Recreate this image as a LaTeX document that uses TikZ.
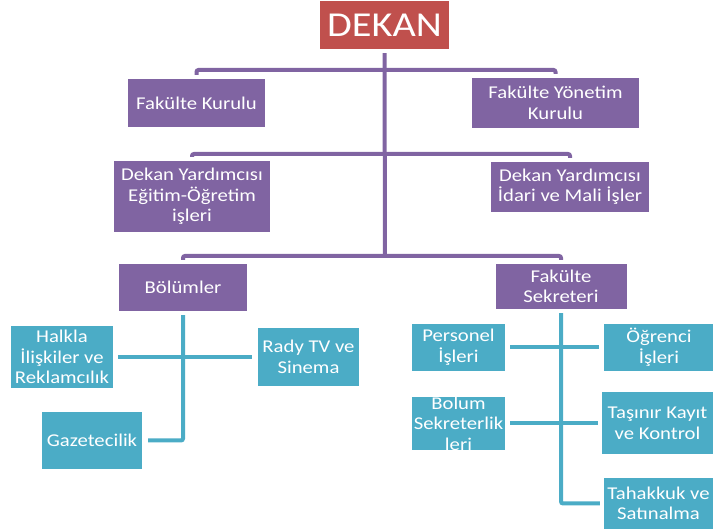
\documentclass[tikz,border=0pt]{standalone}
\usepackage{fontspec}
\setmainfont{Carlito}[FakeStretch=1.15]
\definecolor{deanred}{HTML}{C0504D}
\definecolor{boardpurple}{HTML}{8064A2}
\definecolor{unitteal}{HTML}{4BACC6}

\begin{document}
\begin{tikzpicture}[x=1pt,y=-1pt,
  sz/.style 2 args={minimum width=#1pt,minimum height=#2pt},
  box/.style={rectangle,inner sep=0pt,align=center,text=white,font=\fontsize{18}{20.5}\selectfont},
  pbox/.style={box,fill=boardpurple},
  tbox/.style={box,fill=unitteal},
  pline/.style={draw=boardpurple,line width=4pt,rounded corners=2pt},
  tline/.style={draw=unitteal,line width=4pt,rounded corners=2pt}]
  \useasboundingbox (0,0) rectangle (713,529);
  % dean
  \node[box,fill=deanred,sz={129}{48},font=\fontsize{35}{40}\selectfont] (dekan) at (384.5,25) {DEKAN};
  % boards and deputies
  \node[pbox,sz={137}{48}] (fkurul) at (196.5,103) {Fakülte Kurulu};
  \node[pbox,sz={167}{50}] (fyonetim) at (555.5,103) {Fakülte Yönetim\\Kurulu};
  \node[pbox,sz={156}{71}] (dyegitim) at (192,196.5) {Dekan Yardımcısı\\Eğitim-Öğretim\\işleri};
  \node[pbox,sz={158}{50}] (dyidari) at (570,187) {Dekan Yardımcısı\\İdari ve Mali İşler};
  \node[pbox,sz={128}{47}] (bolumler) at (183,287.5) {Bölümler};
  \node[pbox,sz={131}{45}] (sekreter) at (561,286.5) {Fakülte\\Sekreteri};
  % departments
  \node[tbox,sz={102}{62}] (halkla) at (62,357) {Halkla\\İlişkiler ve\\Reklamcılık};
  \node[tbox,sz={101}{58}] (rady) at (308.5,357) {Rady TV ve\\Sinema};
  \node[tbox,sz={100}{57}] (gazete) at (92,440.5) {Gazetecilik};
  % secretariat units
  \node[tbox,sz={93}{47}] (personel) at (458.5,347.5) {Personel\\İşleri};
  \node[tbox,sz={110}{47}] (ogrenci) at (659,347.5) {Öğrenci\\İşleri};
  \node[tbox,sz={93}{52}] (bsekreter) at (458.5,423.5) {Bolum\\Sekreterlik\\leri};
  \node[tbox,sz={111}{62}] (tasinir) at (657.5,423.5) {Taşınır Kayıt\\ve Kontrol};
  \node[tbox,sz={109}{51}] (tahakkuk) at (658.5,503.5) {Tahakkuk ve\\Satınalma};
  % trunk and brackets
  \coordinate (j1) at (385,70);
  \coordinate (j2) at (385,154);
  \coordinate (j3) at (385,256);
  \draw[pline] ([yshift=-4pt]dekan.south) -- (j3);
  \draw[pline] ([yshift=4pt]fkurul.north) |- (j1) -| ([yshift=4pt]fyonetim.north);
  \draw[pline] ([yshift=4pt]dyegitim.north) |- (j2) -| ([yshift=4pt]dyidari.north);
  \draw[pline] ([yshift=4pt]bolumler.north) |- (j3) -| ([yshift=4pt]sekreter.north);
  % lower branches
  \draw[tline] ([yshift=-4pt]bolumler.south) |- ([xshift=6pt]gazete.east);
  \draw[tline] ([xshift=5pt]halkla.east) -- ([xshift=-6pt]rady.west);
  \draw[tline] ([yshift=-4pt]sekreter.south) |- ([xshift=-4pt]tahakkuk.west);
  \draw[tline] ([xshift=5pt]personel.east) -- ([xshift=-5pt]ogrenci.west);
  \draw[tline] ([xshift=5pt]bsekreter.east) -- ([xshift=-4pt]tasinir.west);
\end{tikzpicture}
\end{document}
